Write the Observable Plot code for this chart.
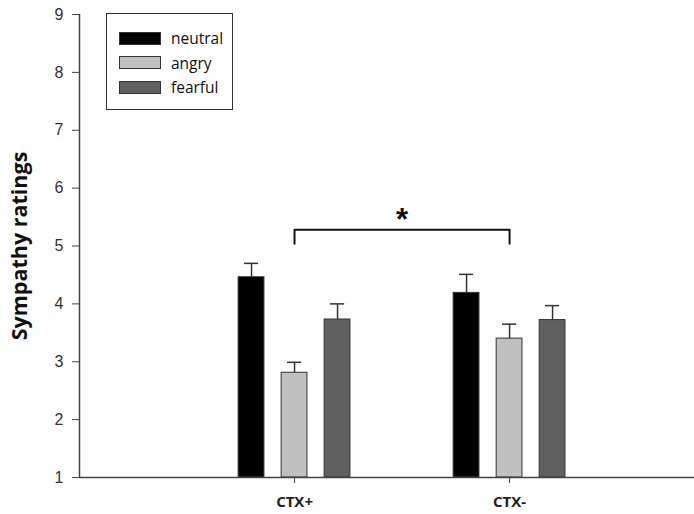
<!DOCTYPE html>
<html>
<head>
<meta charset="utf-8">
<script src="https://cdn.jsdelivr.net/npm/d3@7"></script>
<script src="https://cdn.jsdelivr.net/npm/@observablehq/plot@0.6"></script>
<style>
  html, body { margin: 0; padding: 0; background: #fff; }
  #chart { position: relative; width: 694px; height: 514px; }
  .legend {
    position: absolute; left: 106px; top: 13px; width: 127px; height: 97px;
    border: 1.5px solid #333; box-sizing: border-box; background: #fff;
    font-family: "Open Sans", sans-serif; font-size: 15.5px; color: #111;
  }
  .legend .row { position: absolute; left: 12px; height: 14px; display: flex; align-items: center; }
  .legend .sw { width: 42px; height: 13px; box-sizing: border-box; border: 1px solid #333; margin-right: 10px; }
</style>
</head>
<body>
<div id="chart"></div>
<script>
// Sympathy ratings by context group and facial emotion (mean, upper SEM)
const groups = ["CTX+", "CTX-"];
const emotions = ["neutral", "angry", "fearful"];
const colors = ["#000000", "#c0c0c0", "#606060"];
const meanCTXplus = [4.46, 2.81, 3.73];
const meanCTXminus = [4.19, 3.40, 3.72];
const semCTXplus = [0.24, 0.18, 0.27];
const semCTXminus = [0.32, 0.25, 0.25];
const yTicks = [1, 2, 3, 4, 5, 6, 7, 8, 9];
// significance bracket between the two groups
const bracket = { from: "CTX+", to: "CTX-", y: 5.28, drop: 0.24, label: "*" };

// each group sits at its index on a linear x scale; bars are dodged within it
const dodge = 0.2, half = 0.06, cap = 0.033;
const means = [meanCTXplus, meanCTXminus];
const sems = [semCTXplus, semCTXminus];
const rows = [];
groups.forEach((g, gi) => emotions.forEach((e, ei) => {
  rows.push({ group: g, emotion: e, x: gi + (ei - 1) * dodge, mean: means[gi][ei], top: means[gi][ei] + sems[gi][ei] });
}));

const gx = g => groups.indexOf(g);
const bracketPts = [
  { x: gx(bracket.from), y: bracket.y - bracket.drop },
  { x: gx(bracket.from), y: bracket.y },
  { x: gx(bracket.to), y: bracket.y },
  { x: gx(bracket.to), y: bracket.y - bracket.drop }
];

const plot = Plot.plot({
  width: 694,
  height: 514,
  marginLeft: 79,
  marginRight: 0,
  marginTop: 14,
  marginBottom: 37,
  style: { fontFamily: "'Liberation Sans', Arial, sans-serif", fontSize: "16px", color: "#333", background: "#fff" },
  x: { type: "linear", domain: [-1, 1.86] },
  y: { domain: [1, 9] },
  color: { domain: emotions, range: colors },
  marks: [
    Plot.rectY(rows, {
      x1: d => d.x - half, x2: d => d.x + half, y1: 1, y2: "mean",
      fill: "emotion", stroke: "#333", strokeWidth: 1
    }),
    Plot.ruleX(rows, { x: "x", y1: "mean", y2: "top", stroke: "#333", strokeWidth: 1.5 }),
    Plot.ruleY(rows, { y: "top", x1: d => d.x - cap, x2: d => d.x + cap, stroke: "#333", strokeWidth: 1.5 }),
    Plot.line(bracketPts, { x: "x", y: "y", stroke: "#111", strokeWidth: 2 }),
    Plot.text([bracket], {
      x: d => (gx(d.from) + gx(d.to)) / 2, y: "y", text: "label",
      dy: 0, lineAnchor: "bottom", fontSize: 31, fontWeight: "bold", fill: "#111"
    }),
    Plot.axisY({
      ticks: yTicks, tickSize: 7, tickPadding: 9, stroke: "#444",
      fill: "#333", fontSize: 16,
      label: "Sympathy ratings", labelAnchor: "center", labelArrow: "none", labelOffset: 68
    }),
    Plot.axisX({
      ticks: groups.map((g, i) => i), tickFormat: i => groups[i], tickSize: 6, tickPadding: 13,
      stroke: "#444", fill: "#222", fontSize: 15, fontWeight: "bold",
      fontFamily: "'Open Sans', sans-serif", label: null
    }),
    Plot.ruleX([-1], { stroke: "#444", strokeWidth: 1.5 }),
    Plot.ruleY([1], { stroke: "#444", strokeWidth: 1.5 })
  ]
});

// bold axis title
plot.querySelectorAll("text").forEach(t => {
  if (t.textContent === "Sympathy ratings") {
    t.setAttribute("font-weight", "bold");
    t.setAttribute("font-size", "21.5");
    t.setAttribute("font-family", "'Open Sans', sans-serif");
    t.setAttribute("fill", "#111");
  }
});

const chart = document.getElementById("chart");
chart.appendChild(plot);

// legend box drawn over the upper left of the plot area
const legend = document.createElement("div");
legend.className = "legend";
emotions.forEach((e, i) => {
  const row = document.createElement("div");
  row.className = "row";
  row.style.top = (17 + i * 24.7) + "px";
  const sw = document.createElement("div");
  sw.className = "sw";
  sw.style.background = colors[i];
  const lab = document.createElement("span");
  lab.textContent = e;
  row.appendChild(sw);
  row.appendChild(lab);
  legend.appendChild(row);
});
chart.appendChild(legend);
</script>
</body>
</html>
